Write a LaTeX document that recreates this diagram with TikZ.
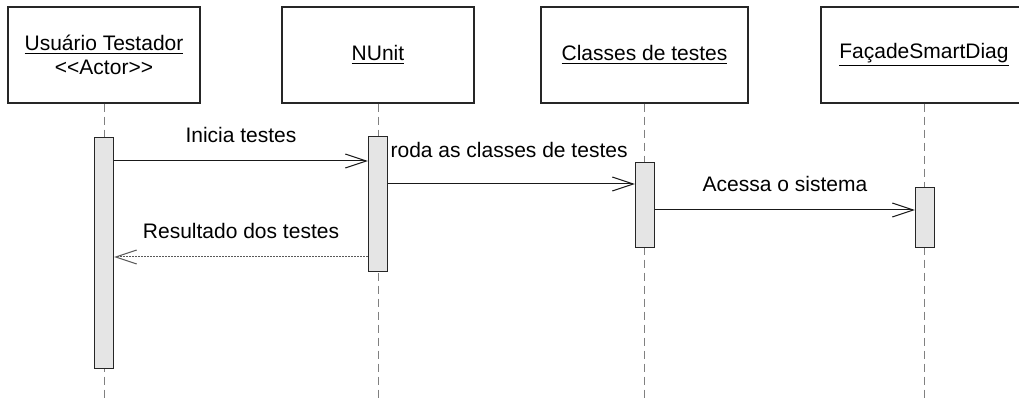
\documentclass[tikz,border=0pt]{standalone}
\usepackage{fontspec}
\setmainfont{Liberation Sans}
\usetikzlibrary{arrows.meta,positioning}

\begin{document}
\begin{tikzpicture}[
  x=0.5pt, y=-0.5pt,
  font=\fontsize{10.5}{12}\selectfont,
  obj/.style={draw=black!85, line width=0.6pt, fill=white, align=center, minimum width=#1, minimum height=48pt, inner sep=0pt},
  obj/.default=96pt,
  life/.style={draw=black!50, line width=0.5pt, dash pattern=on 4pt off 2.5pt},
  act/.style={draw=black!85, line width=0.6pt, fill=black!10, minimum width=9.5pt, minimum height=#1, inner sep=0pt, anchor=north},
  msg/.style={draw=black!90, line width=0.5pt, -{Straight Barb[length=10.5pt,width=7pt]}},
  ret/.style={msg, draw=black!65, dash pattern=on 1pt off 0.5pt},
  lbl/.style={anchor=base, yshift=9pt, inner sep=0pt},
  ]
\useasboundingbox (0,0) rectangle (1019,401);
% objects
\node[obj] (ut) at (104,55) {\underline{Usuário Testador}\\<\kern0pt<Actor>\kern0pt>};
\node[obj] (nu) at (378,55) {\underline{NUnit}};
\node[obj=103.5pt] (ct) at (644.5,55) {\underline{Classes de testes}};
\node[obj=103pt] (fs) at (924,55) {\underline{FaçadeSmartDiag}};
% lifelines
\draw[life] (ut.south) -- (ut.south |- 0,402);
\draw[life] (nu.south) -- (nu.south |- 0,402);
\draw[life] (ct.south) -- (ct.south |- 0,402);
\draw[life] (fs.south) -- (fs.south |- 0,402);
% activations
\node[act=115.5pt] (a1) at (104,137) {};
\node[act=67.5pt]  (a2) at (378,136) {};
\node[act=42.5pt]  (a3) at (645,162) {};
\node[act=30pt]    (a4) at (925,187) {};
% messages
\draw[msg] (a1.east |- 0,161) -- node[lbl] {Inicia testes} (a2.west |- 0,161);
\draw[msg] (a2.east |- 0,184) -- node[pos=0, lbl, anchor=base west, xshift=1pt, yshift=4.25pt] {roda as classes de testes} (a3.west |- 0,184);
\draw[msg] (a3.east |- 0,210) -- node[lbl] {Acessa o sistema} (a4.west |- 0,210);
\draw[ret] (a2.west |- 0,257) -- node[lbl] {Resultado dos testes} (a1.east |- 0,257);
\end{tikzpicture}
\end{document}
